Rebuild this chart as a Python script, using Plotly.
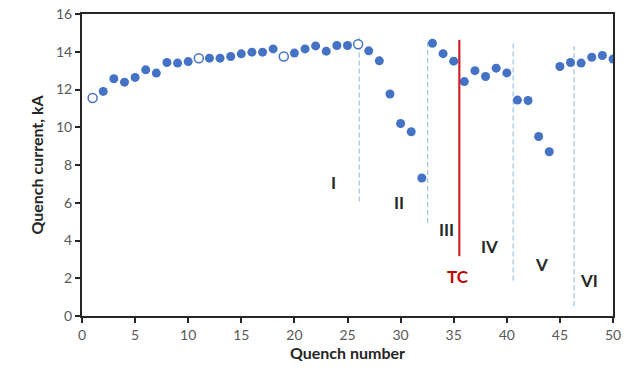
import plotly.graph_objects as go

quench_no = list(range(1, 51))
current_ka = [11.55, 11.9, 12.57, 12.39, 12.64, 13.04, 12.87, 13.43, 13.4, 13.48,
              13.66, 13.66, 13.66, 13.75, 13.89, 13.98, 13.98, 14.15, 13.75, 13.93,
              14.15, 14.31, 14.03, 14.33, 14.33, 14.4, 14.05, 13.52, 11.76, 10.2,
              9.76, 7.31, 14.45, 13.9, 13.5, 12.42, 13.0, 12.69, 13.13, 12.88,
              11.44, 11.42, 9.51, 8.7, 13.22, 13.43, 13.4, 13.71, 13.8, 13.61]
open_points = [1, 11, 19, 26]

div_x = [26.1, 32.55, 40.6, 46.33]
div_top = [14.75, 14.6, 14.54, 14.3]
div_bot = [6.07, 4.93, 1.88, 0.52]
tc_x = 35.53
tc_range = [3.17, 14.63]

region_labels = ["I", "II", "III", "IV", "V", "VI"]
label_x = [23.7, 29.85, 34.3, 38.4, 43.3, 47.7]
label_y = [7.05, 5.99, 4.58, 3.69, 2.72, 1.88]

blue = "#4472C4"
fig = go.Figure()

fig.add_trace(go.Scatter(
    x=quench_no, y=current_ka, mode="markers",
    marker=dict(size=9, color=[("white" if q in open_points else blue) for q in quench_no],
                line=dict(color=blue, width=[1.5 if q in open_points else 0 for q in quench_no])),
    showlegend=False, hoverinfo="x+y"))

for xv, t, b in zip(div_x, div_top, div_bot):
    fig.add_shape(type="line", xref="x", yref="y", x0=xv, x1=xv, y0=b, y1=t,
                  line=dict(color="#9DC3E6", width=1.2, dash="5px,3px"), layer="below")
fig.add_shape(type="line", xref="x", yref="y", x0=tc_x, x1=tc_x, y0=tc_range[0], y1=tc_range[1],
              line=dict(color="#D0202A", width=2.2))

for t, xv, yv in zip(region_labels, label_x, label_y):
    fig.add_annotation(x=xv, y=yv, text="<b>%s</b>" % t, showarrow=False,
                       font=dict(family="Lato", size=17, color="#262626"))
fig.add_annotation(x=35.4, y=2.1, text="<b>TC</b>", showarrow=False,
                   font=dict(family="Lato", size=17, color="#C00000"))

fig.update_layout(
    width=632, height=375,
    margin=dict(l=82, r=19, t=14, b=59),
    plot_bgcolor="white", paper_bgcolor="white",
    font=dict(family="Lato", size=14, color="#595959"),
    xaxis=dict(range=[0, 50], tickvals=list(range(0, 51, 5)), showgrid=False, zeroline=False,
               showline=True, linecolor="#262626", linewidth=2, mirror=True, automargin=False,
               ticks="outside", ticklen=5, tickcolor="#262626", tickwidth=1.5,
               title=dict(text="<b>Quench number</b>", font=dict(size=16, color="#262626"), standoff=4)),
    yaxis=dict(range=[0, 16], tickvals=list(range(0, 17, 2)), showgrid=False, zeroline=False,
               showline=True, linecolor="#262626", linewidth=2, mirror=True, automargin=False,
               ticks="outside", ticklen=5, tickcolor="#262626", tickwidth=1.5,
               title=dict(text="<b>Quench current, kA</b>", font=dict(size=16, color="#262626"), standoff=8)),
)

fig.write_html("out.html")
